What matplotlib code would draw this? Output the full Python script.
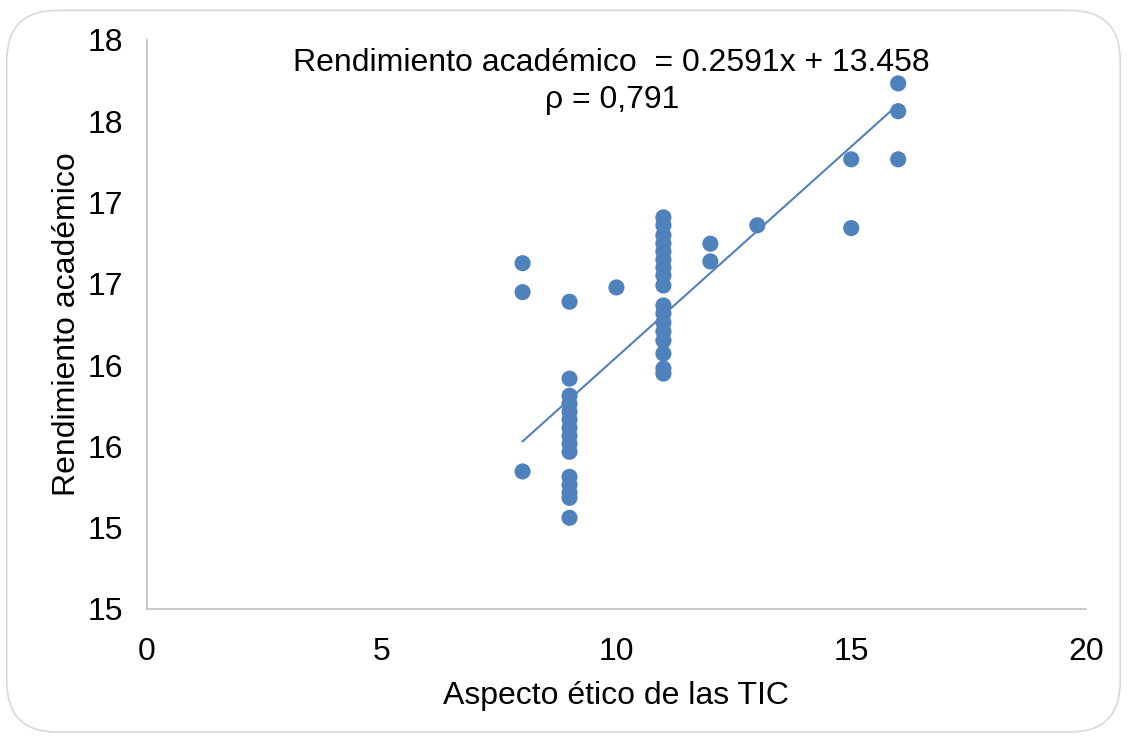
import numpy as np
import matplotlib
matplotlib.use('Agg')
import matplotlib.pyplot as plt
from matplotlib.patches import FancyBboxPatch
from matplotlib.ticker import FuncFormatter

plt.rcParams['font.family'] = ['Liberation Sans', 'DejaVu Sans']

# puntos
x8 = [8, 8, 8]
y8 = [16.627, 16.449, 15.346]
x9 = [9] * 15
y9 = [16.39, 15.917, 15.812, 15.763, 15.714, 15.665, 15.615, 15.566,
      15.517, 15.467, 15.313, 15.264, 15.215, 15.184, 15.061]
x10 = [10]
y10 = [16.478]
x11 = [11] * 17
y11 = [16.909, 16.860, 16.799, 16.749, 16.700, 16.650, 16.601, 16.552,
       16.490, 16.367, 16.318, 16.262, 16.207, 16.151, 16.071, 15.979, 15.948]
x_rest = [12, 12, 13, 15, 15, 16, 16, 16]
y_rest = [16.747, 16.638, 16.86, 17.266, 16.843, 17.733, 17.562, 17.266]

aspecto = np.array(x8 + x9 + x10 + x11 + x_rest, dtype=float)
rendimiento = np.array(y8 + y9 + y10 + y11 + y_rest)

pendiente = 0.2591
intercepto = 13.458
rho = '0,791'

yticks = [14.5, 15, 15.5, 16, 16.5, 17, 17.5, 18]
xticks = [0, 5, 10, 15, 20]

azul = '#4F81BD'
gris = '#BFBFBF'
fs = 23

fig = plt.figure(figsize=(11.27, 7.38), dpi=100)
borde = FancyBboxPatch((0.006, 0.008), 0.988, 0.978,
                       boxstyle='round,pad=0,rounding_size=0.045',
                       transform=fig.transFigure, facecolor='none',
                       edgecolor='#D9D9D9', linewidth=1.2, mutation_aspect=1127/738)
fig.patches.append(borde)

ax = fig.add_axes([0.1304, 0.1748, 0.8332, 0.771])
ax.patch.set_alpha(0)

ax.scatter(aspecto, rendimiento, s=135, color=azul, edgecolors='none', zorder=3)

xt = np.array([aspecto.min(), aspecto.max()])
ax.plot(xt, pendiente * xt + intercepto, color=azul, linewidth=1.5, zorder=2)

ax.set_xlim(0, 20)
ax.set_ylim(14.5, 18)
ax.set_xticks(xticks)
ax.set_yticks(yticks)
ax.yaxis.set_major_formatter(FuncFormatter(lambda v, p: str(int(np.floor(v + 0.5)))))
ax.tick_params(length=0, labelsize=fs)
ax.tick_params(axis='y', pad=17)
ax.tick_params(axis='x', pad=20)

for s in ['top', 'right']:
    ax.spines[s].set_visible(False)
for s in ['left', 'bottom']:
    ax.spines[s].set_color(gris)
    ax.spines[s].set_linewidth(1.2)

ax.set_xlabel('Aspecto ético de las TIC', fontsize=fs, labelpad=10)
ax.set_ylabel('Rendimiento académico', fontsize=fs, labelpad=4)

ax.text(0.495, 0.96, 'Rendimiento académico  = %.4fx + %.3f' % (pendiente, intercepto),
        transform=ax.transAxes, ha='center', va='center', fontsize=fs)
ax.text(0.495, 0.894, 'ρ = ' + rho, transform=ax.transAxes,
        ha='center', va='center', fontsize=fs)

fig.savefig('out.png', dpi=100)
